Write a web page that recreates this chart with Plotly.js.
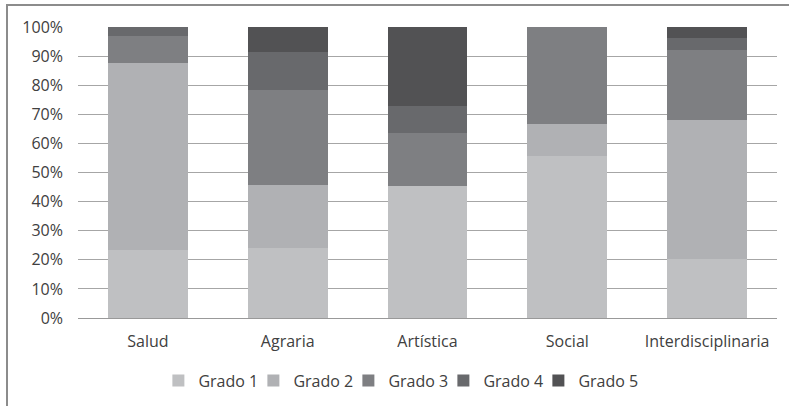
<!DOCTYPE html>
<html>
<head>
<meta charset="utf-8">
<script src="https://cdn.plot.ly/plotly-3.0.1.min.js"></script>
<style>
  html, body { margin: 0; padding: 0; background: #ffffff; }
  #wrap { position: relative; width: 789px; height: 406px; overflow: hidden; }
  #chart { position: absolute; left: 0; top: 0; width: 789px; height: 406px; }
  #frame { position: absolute; left: 6px; top: 4px; width: 900px; height: 600px;
           border-left: 2px solid #8c8c8c; border-top: 2px solid #8c8c8c; pointer-events: none; }
</style>
</head>
<body>
<div id="wrap">
  <div id="chart"></div>
  <div id="frame"></div>
</div>
<script>
const categories = ["Salud", "Agraria", "Artística", "Social", "Interdisciplinaria"];
const seriesNames = ["Grado 1", "Grado 2", "Grado 3", "Grado 4", "Grado 5"];
const grado1 = [23.5, 23.9, 45.5, 55.7, 20.2];
const grado2 = [64.1, 21.8, 0.0, 10.9, 47.8];
const grado3 = [9.4, 32.5, 18.1, 33.4, 24.1];
const grado4 = [3.0, 13.1, 9.3, 0.0, 4.0];
const grado5 = [0.0, 8.7, 27.1, 0.0, 3.9];
const yTickVals = [0, 10, 20, 30, 40, 50, 60, 70, 80, 90, 100];
const yTickText = ["0%", "10%", "20%", "30%", "40%", "50%", "60%", "70%", "80%", "90%", "100%"];

const seriesValues = [grado1, grado2, grado3, grado4, grado5];
const colors = ["#bfc0c2", "#b0b1b4", "#7e7f82", "#68696c", "#525254"];

const traces = seriesValues.map((vals, i) => {
  const t = {
    type: "bar",
    name: seriesNames[i],
    x: categories,
    y: vals,
    marker: { color: colors[i], line: { width: 0 } },
    hoverinfo: "x+y+name"
  };
  if (i === seriesValues.length - 1) t.legendwidth = 70;
  return t;
});

const font = { family: "Open Sans, sans-serif", size: 16, color: "#404040" };

const layout = {
  width: 789,
  height: 406,
  barmode: "stack",
  bargap: 0.43,
  margin: { l: 78, r: 12, t: 27, b: 88, pad: 0, autoexpand: false },
  paper_bgcolor: "#ffffff",
  plot_bgcolor: "#ffffff",
  font: font,
  showlegend: true,
  legend: {
    orientation: "h",
    x: 0.115, xanchor: "left",
    y: -0.157, yanchor: "top",
    font: font,
    itemwidth: 30,
    entrywidth: 50,
    entrywidthmode: "pixels",
    traceorder: "normal",
    bgcolor: "rgba(0,0,0,0)"
  },
  xaxis: {
    type: "category",
    showgrid: false,
    showline: false,
    zeroline: false,
    ticks: "",
    ticklabelstandoff: 12,
    tickfont: font
  },
  yaxis: {
    range: [0, 100],
    tickmode: "array",
    tickvals: yTickVals,
    ticktext: yTickText,
    showgrid: true,
    gridcolor: "#a6a6a6",
    gridwidth: 1,
    zeroline: true,
    zerolinecolor: "#999999",
    zerolinewidth: 1,
    showline: false,
    ticks: "",
    ticklabelstandoff: 14,
    tickfont: font
  }
};

Plotly.newPlot("chart", traces, layout, { displayModeBar: false, staticPlot: true });
</script>
</body>
</html>
